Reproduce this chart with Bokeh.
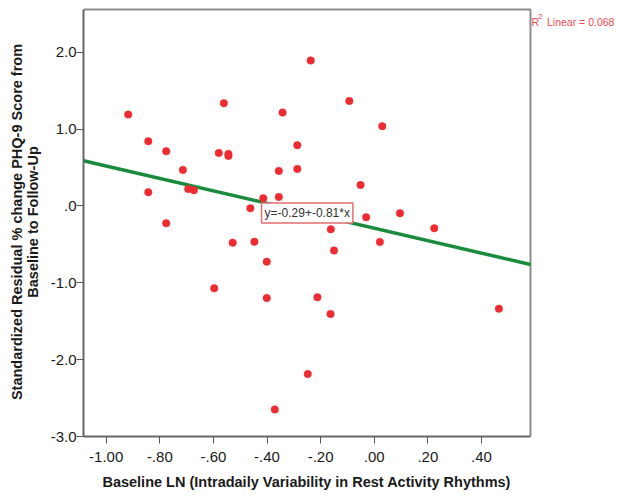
from bokeh.plotting import figure
from bokeh.models import Label, FixedTicker, ColumnDataSource
from bokeh.embed import file_html
from bokeh.resources import INLINE

# Data
ln_iv = [-0.918, -0.843, -0.843, -0.776, -0.776, -0.714, -0.694, -0.673, -0.561, -0.580,
         -0.544, -0.544, -0.528, -0.462, -0.447, -0.414, -0.356, -0.356, -0.342, -0.287,
         -0.287, -0.237, -0.093, 0.030, -0.051, -0.030, 0.096, 0.224, -0.162, 0.021,
         -0.150, -0.401, -0.597, -0.401, -0.212, -0.248, -0.371, -0.163, 0.465]
std_resid = [1.189, 0.842, 0.178, 0.712, -0.226, 0.469, 0.221, 0.204, 1.337, 0.690,
             0.677, 0.651, -0.478, -0.030, -0.465, 0.100, 0.456, 0.117, 1.215, 0.790,
             0.482, 1.892, 1.367, 1.038, 0.273, -0.147, -0.095, -0.291, -0.304, -0.469,
             -0.580, -0.725, -1.072, -1.198, -1.189, -2.188, -2.648, -1.406, -1.337]
intercept = -0.29
slope = -0.81
r2 = 0.068
x_ticks = [-1.0, -0.8, -0.6, -0.4, -0.2, 0.0, 0.2, 0.4]
x_tick_labels = ["-1.00", "-.80", "-.60", "-.40", "-.20", ".00", ".20", ".40"]
y_ticks = [-3.0, -2.0, -1.0, 0.0, 1.0, 2.0]
y_tick_labels = ["-3.0", "-2.0", "-1.0", ".0", "1.0", "2.0"]
x_title = "Baseline LN (Intradaily Variability in Rest Activity Rhythms)"
y_title = "Standardized Residual % change PHQ-9 Score from\nBaseline to Follow-Up"

# Visible plotting box (data units)
X0, X1 = -1.0847, 0.583
Y0, Y1 = -3.0, 2.556
# pixel scales of the box (box spans 83..530 px and 9..436 px)
XS = (530 - 83) / (X1 - X0)
YS = (436 - 9) / (Y1 - Y0)
# The frame is extended to the right edge (for the R^2 note) and 2px above
XR = X1 + (618 - 530) / XS
YT = Y1 + 2 / YS

FONT = "Liberation Sans"
FRAME = "#8c8c8c"

p = figure(width=618, height=496, x_range=(X0, XR), y_range=(Y0, YT),
           output_backend="svg", toolbar_location=None,
           min_border_left=83, min_border_right=0, min_border_top=7, min_border_bottom=60)
p.background_fill_color = "white"
p.border_fill_color = "white"
p.grid.visible = False
p.outline_line_color = None

# Axes
p.xaxis.ticker = FixedTicker(ticks=x_ticks)
p.xaxis.major_label_overrides = dict(zip(x_ticks, x_tick_labels))
p.yaxis.ticker = FixedTicker(ticks=y_ticks)
p.yaxis.major_label_overrides = dict(zip(y_ticks, y_tick_labels))
p.xaxis.bounds = (X0, X1)
p.yaxis.bounds = (Y0, Y1)
for ax in (p.xaxis, p.yaxis):
    ax.axis_line_color = "#666666"
    ax.axis_line_width = 2
    ax.major_tick_line_color = "#555555"
    ax.major_tick_line_width = 1
    ax.major_tick_in = 0
    ax.major_tick_out = 7
    ax.minor_tick_line_color = None
    ax.major_label_text_font = FONT
    ax.major_label_text_font_size = "15px"
    ax.major_label_text_color = "#1a1a1a"
    ax.axis_label_text_font = FONT
    ax.axis_label_text_font_style = "bold"
    ax.axis_label_text_font_size = "14.5px"
    ax.axis_label_text_color = "#1a1a1a"
    ax.axis_label_text_line_height = 1.0
p.xaxis.major_label_standoff = 8
p.yaxis.major_label_standoff = 0
# the axis title is centred on the whole (extended) frame; trailing no-break
# spaces move its centre back under the visible box
p.xaxis.axis_label = x_title + "\u00a0" * 22
p.xaxis.axis_label_standoff = 9
p.yaxis.axis_label = y_title
p.yaxis.axis_label_standoff = 7

# Top and right edges of the plotting box
p.line([X0, X1, X1], [Y1, Y1, Y0], line_color=FRAME, line_width=2)

# Fit line
p.line([X0, X1], [intercept + slope * X0, intercept + slope * X1],
       line_color="#1a8a3c", line_width=3.5)

# Points
src = ColumnDataSource(dict(x=ln_iv, y=std_resid))
p.scatter("x", "y", source=src, size=7.5, fill_color="#ee2b30", line_color="#ee2b30", line_width=0.5)

# Equation label
eq = Label(x=-0.4205, y=0.039, x_units="data", y_units="data",
           text=f"y={intercept:.2f}+{slope:.2f}*x",
           text_font=FONT, text_font_size="12px", text_color="#333333",
           text_baseline="top", text_align="left",
           background_fill_color="white", border_line_color="#e07070", border_line_width=1.5,
           padding=3)
p.add_layout(eq)

# R^2 note, right of the box
RC = "#ee4a4f"
r_lab = Label(x=X1 + 1 / XS, y=Y1 - 12 / YS, text="R",
              text_font=FONT, text_font_size="10.5px", text_color=RC, text_baseline="alphabetic")
sup = Label(x=X1 + 7.5 / XS, y=Y1 - 6.5 / YS, text="2",
            text_font=FONT, text_font_size="8px", text_color=RC, text_baseline="alphabetic")
rest = Label(x=X1 + 16.5 / XS, y=Y1 - 12 / YS, text=f"Linear = {r2:.3f}",
             text_font=FONT, text_font_size="10.5px", text_color=RC, text_baseline="alphabetic")
for l in (r_lab, sup, rest):
    p.add_layout(l)

open("out.html", "w").write(file_html(p, INLINE))
